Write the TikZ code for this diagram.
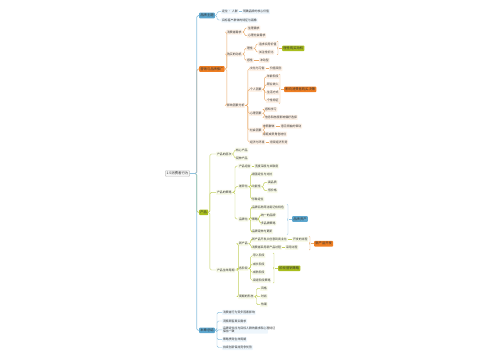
\documentclass[tikz,border=0pt]{standalone}
\usepackage{fontspec}
\newfontfamily\cjk{Noto Sans CJK SC}
\usetikzlibrary{calc,decorations.pathreplacing}

\definecolor{hblue}{HTML}{5DA7CF}
\definecolor{lblue}{HTML}{8EC1DE}
\definecolor{fblue}{HTML}{EEF6FC}
\definecolor{horange}{HTML}{EF7E22}
\definecolor{lorange}{HTML}{E9A867}
\definecolor{forange}{HTML}{FDF1E6}
\definecolor{hgreen}{HTML}{A9BE1E}
\definecolor{lgreen}{HTML}{C2CF5E}
\definecolor{fgreen}{HTML}{F8FAE8}
\definecolor{txt}{HTML}{333333}

\tikzset{
  root/.style={draw=gray!45,fill=gray!8,rounded corners=0.8pt,inner sep=1.2pt,
    minimum height=6pt,text=txt,font=\cjk\fontsize{3.4}{3.6}\selectfont},
  head/.style={fill=#1,rounded corners=0.8pt,inner sep=1.2pt,anchor=west,
    minimum height=5.6pt,text=txt,font=\cjk\fontsize{3.3}{3.6}\selectfont},
  leaf/.style={fill=#1,rounded corners=0.6pt,inner sep=0.8pt,anchor=west,
    minimum height=5pt,text=txt,font=\cjk\fontsize{2.9}{3.2}\selectfont},
  bl/.style={leaf=fblue},
  ol/.style={leaf=forange},
  gl/.style={leaf=fgreen},
  bb/.style={draw=lblue,line width=0.45pt,rounded corners=1.5pt},
  ob/.style={draw=lorange,line width=0.45pt,rounded corners=1.5pt},
  gb/.style={draw=lgreen,line width=0.45pt,rounded corners=1.5pt},
  curly/.style={decorate,decoration={brace,amplitude=2pt}},
}

\begin{document}
\begin{tikzpicture}[x=1pt,y=-1pt]
  \useasboundingbox (0,0) rectangle (500,360);

  % root
  \node[root] (root) at (177.5,173.5) {1.5消费者行为};

  % branch heads
  \node[head=hblue] (b1) at (199,15.5) {品牌主题};
  \node[head=horange] (o) at (199,69) {营销与品牌推广};
  \node[head=hgreen] (g) at (199,212.3) {产品};
  \node[head=hblue] (b2) at (199,330.3) {本章总结};

  \foreach \h/\s in {o/ob,g/gb,b1/bb,b2/bb}
    \draw[\s,line width=0.7pt] (root.east) -- ++(7,0) |- (\h.west);

  % first branch
  \node[bl] (b1a) at (221,11.7) {定位 · 人群};
  \node[bl] (b1ax) at (242,11.7) {明确品牌的核心价值};
  \node[bl] (b1b) at (221,20) {目标客户群体的特征与画像};
  \foreach \c in {b1a,b1b}
    \draw[bb] (b1.east) -- ++(2,0) |- (\c.west);
  \draw[bb] (b1a.east) -- (b1ax.west);

  % second branch
  \node[ol] (o1) at (226,32) {消费者需求};
  \node[ol] (o1a) at (247,28) {生理需求};
  \node[ol] (o1b) at (247,35.7) {心理社会需求};
  \node[ol] (o2) at (226,54) {购买的动机};
  \node[ol] (o2a) at (246,48.3) {理性};
  \node[ol] (o2a1) at (258,44) {追求实用价值};
  \node[ol] (o2a2) at (258,52) {关注性价比};
  \node[head=hgreen] (os1) at (282,48.3) {理性购买动机};
  \node[ol] (o2b) at (246,60.3) {感性};
  \node[ol] (o2bx) at (259,60.3) {冲动型};
  \node[ol] (o3) at (226,105.3) {影响因素分析};
  \node[ol] (o3a) at (249,68.7) {文化与习俗};
  \node[ol] (o3ax) at (269,68.7) {价值观念};
  \node[ol] (o3b) at (249,89.3) {个人因素};
  \node[ol] (o3b1) at (266,76.7) {年龄阶段};
  \node[ol] (o3b2) at (266,84.7) {职业收入};
  \node[ol] (o3b3) at (266,92.7) {生活方式};
  \node[ol] (o3b4) at (266,100.7) {个性特征};
  \node[head=horange] (os2) at (284,89.3) {影响消费者购买决策};
  \node[ol] (o3c) at (249,113.3) {心理因素};
  \node[ol] (o3c1) at (264,109.3) {感知学习};
  \node[ol] (o3c2) at (264,117.3) {信念和态度影响偏好选择};
  \node[ol] (o3d) at (249,130) {社会因素};
  \node[ol] (o3d1) at (262,126) {参照群体};
  \node[ol] (o3d1x) at (280,126) {意见领袖的带动};
  \node[ol] (o3d2) at (262,134) {家庭成员角色地位};
  \node[ol] (o3e) at (249,142) {经济与环境};
  \node[ol] (o3ex) at (269,142) {宏观经济形势};

  \foreach \c in {o1,o2,o3}
    \draw[ob] (o.east) -- ++(2,0) |- (\c.west);
  \foreach \c in {o1a,o1b}
    \draw[ob] (o1.east) -- ++(2,0) |- (\c.west);
  \foreach \c in {o2a,o2b}
    \draw[ob] (o2.east) -- ++(2,0) |- (\c.west);
  \foreach \c in {o2a1,o2a2}
    \draw[ob] (o2a.east) -- ++(2,0) |- (\c.west);
  \draw[ob] (o2b.east) -- (o2bx.west);
  \foreach \c in {o3a,o3b,o3c,o3d,o3e}
    \draw[ob] (o3.east) -- ++(2.5,0) |- (\c.west);
  \foreach \c in {o3b1,o3b2,o3b3,o3b4}
    \draw[ob] (o3b.east) -- ++(2,0) |- (\c.west);
  \foreach \c in {o3c1,o3c2}
    \draw[ob] (o3c.east) -- ++(2,0) |- (\c.west);
  \foreach \c in {o3d1,o3d2}
    \draw[ob] (o3d.east) -- ++(2,0) |- (\c.west);
  \draw[ob] (o3a.east) -- (o3ax.west);
  \draw[ob] (o3d1.east) -- (o3d1x.west);
  \draw[ob] (o3e.east) -- (o3ex.west);
  % summaries
  \draw[ob,curly] ($(o2a1.north -| os1.west)+(-5,0)$) -- ($(o2a2.south -| os1.west)+(-5,0)$);
  \draw[ob] ($(os1.west)+(-3,0)$) -- (os1.west);
  \draw[ob,curly] ($(o3b1.north -| os2.west)+(-5,0)$) -- ($(o3b4.south -| os2.west)+(-5,0)$);
  \draw[ob] ($(os2.west)+(-3,0)$) -- (os2.west);

  % third branch
  \node[gl] (g1) at (216,154) {产品的层次};
  \node[gl] (g1a) at (235,150) {核心产品};
  \node[gl] (g1b) at (235,158) {延伸产品};
  \node[gl] (g2) at (216,192.3) {产品的策略};
  \node[gl] (g2a) at (238,166) {产品组合};
  \node[gl] (g2ax) at (254,166) {宽度深度与关联度};
  \node[gl] (g2b) at (238,186.7) {差异化};
  \node[gl] (g2b1) at (251,174) {避强定位与对抗};
  \node[gl] (g2b2) at (251,186.7) {功能性};
  \node[gl] (g2b21) at (267,182.3) {高品质};
  \node[gl] (g2b22) at (267,190.7) {低价格};
  \node[gl] (g2b3) at (251,199) {形象定位};
  \node[gl] (g2c) at (238,219) {品牌化};
  \node[gl] (g2c1) at (251,207.3) {品牌名称简洁易记有特色};
  \node[gl] (g2c2) at (251,219) {策略};
  \node[gl] (g2c21) at (260,215) {统一的品牌};
  \node[gl] (g2c22) at (260,223) {多品牌策略};
  \node[gl] (g2c3) at (251,231.7) {品牌延伸与更新};
  \node[head=hblue] (gs1) at (292,219) {品牌资产};
  \node[gl] (g3) at (216,270) {产品生命周期};
  \node[gl] (g3a) at (238,243.7) {新产品};
  \node[gl] (g3a1) at (251,239.3) {新产品开发从创意到商业化};
  \node[gl] (g3a1x) at (292,239.3) {开发的流程};
  \node[gl] (g3a2) at (251,247.3) {消费者采用新产品过程};
  \node[gl] (g3a2x) at (285,247.3) {采用过程};
  \node[head=horange] (gs2) at (314,243.7) {新产品开发};
  \node[gl] (g3b) at (238,268.3) {各阶段};
  \node[gl] (g3b1) at (252,255.7) {导入阶段};
  \node[gl] (g3b2) at (252,264) {成长阶段};
  \node[gl] (g3b3) at (252,272.3) {成熟阶段};
  \node[gl] (g3b4) at (252,280.3) {衰退阶段策略};
  \node[head=hgreen] (gs3) at (278,268.3) {阶段营销策略};
  \node[gl] (g3c) at (238,296.7) {周期的形态};
  \node[gl] (g3c1) at (260,288.3) {风格};
  \node[gl] (g3c2) at (260,296.7) {时尚};
  \node[gl] (g3c3) at (260,304.7) {热潮};

  \foreach \c in {g1,g2,g3}
    \draw[gb] (g.east) -- ++(1.5,0) |- (\c.west);
  \foreach \c in {g1a,g1b}
    \draw[gb] (g1.east) -- ++(1.5,0) |- (\c.west);
  \foreach \c in {g2a,g2b,g2c}
    \draw[gb] (g2.east) -- ++(2.5,0) |- (\c.west);
  \draw[gb] (g2a.east) -- (g2ax.west);
  \foreach \c in {g2b1,g2b2,g2b3}
    \draw[gb] (g2b.east) -- ++(2,0) |- (\c.west);
  \foreach \c in {g2b21,g2b22}
    \draw[gb] (g2b2.east) -- ++(2,0) |- (\c.west);
  \foreach \c in {g2c1,g2c2,g2c3}
    \draw[gb] (g2c.east) -- ++(2,0) |- (\c.west);
  \foreach \c in {g2c21,g2c22}
    \draw[gb] (g2c2.east) -- ++(0.5,0) |- (\c.west);
  \foreach \c in {g3a,g3b,g3c}
    \draw[gb] (g3.east) -- ++(3,0) |- (\c.west);
  \foreach \c in {g3a1,g3a2}
    \draw[gb] (g3a.east) -- ++(2,0) |- (\c.west);
  \draw[gb] (g3a1.east) -- (g3a1x.west);
  \draw[gb] (g3a2.east) -- (g3a2x.west);
  \foreach \c in {g3b1,g3b2,g3b3,g3b4}
    \draw[gb] (g3b.east) -- ++(2,0) |- (\c.west);
  \foreach \c in {g3c1,g3c2,g3c3}
    \draw[gb] (g3c.east) -- ++(2,0) |- (\c.west);
  % summaries
  \draw[bb,curly] ($(g2c1.north -| gs1.west)+(-5,0)$) -- ($(g2c3.south -| gs1.west)+(-5,0)$);
  \draw[bb] ($(gs1.west)+(-3,0)$) -- (gs1.west);
  \draw[ob,curly] ($(g3a1.north -| gs2.west)+(-5,0)$) -- ($(g3a2.south -| gs2.west)+(-5,0)$);
  \draw[ob] ($(gs2.west)+(-3,0)$) -- (gs2.west);
  \draw[gb,curly] ($(g3b1.north -| gs3.west)+(-5,0)$) -- ($(g3b4.south -| gs3.west)+(-5,0)$);
  \draw[gb] ($(gs3.west)+(-3,0)$) -- (gs3.west);

  % last branch
  \node[bl] (b2a) at (222,312.3) {消费者行为受多因素影响};
  \node[bl] (b2b) at (222,321) {洞察顾客真实需求};
  \node[bl,align=left,text width=44pt] (b2c) at (222,329.8)
    {品牌定位应与目标人群的需求和心理特征\\保持一致};
  \node[bl] (b2d) at (222,339.7) {策略贯穿生命周期};
  \node[bl] (b2e) at (222,347.5) {持续创新保持竞争优势};
  \foreach \c in {b2a,b2b,b2c,b2d,b2e}
    \draw[bb] (b2.east) -- ++(2,0) |- (\c.west);
\end{tikzpicture}
\end{document}
